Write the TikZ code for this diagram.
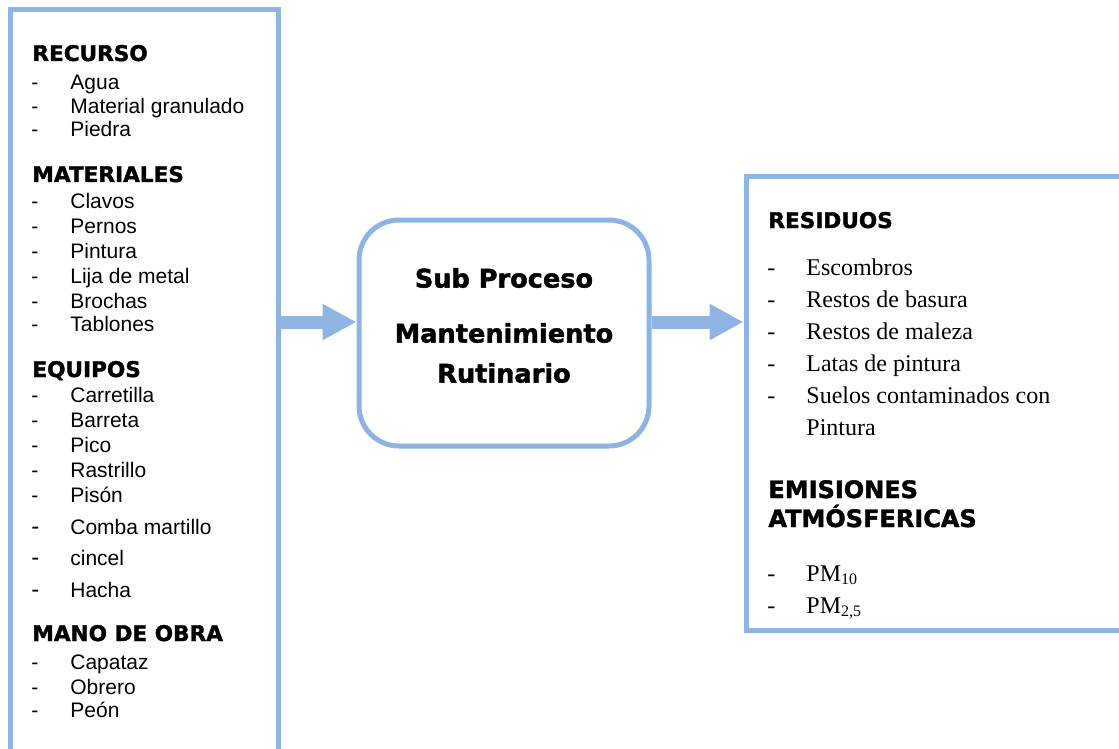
\documentclass[tikz,border=0pt]{standalone}
\usepackage{fontspec}
\setmainfont{Liberation Sans}
\newfontfamily\headfont[FakeBold=1.6]{DejaVu Sans Bold}
\newfontfamily\bodyserif{Liberation Serif}
\usetikzlibrary{arrows.meta, positioning}
\definecolor{SoftBlue}{RGB}{141,180,226}

\begin{document}
\begin{tikzpicture}[
    x=0.5pt, y=-0.5pt,
    panel/.style={draw=SoftBlue, line width=2.5pt, fill=white, inner sep=0pt},
    head/.style={anchor=base west, inner sep=0pt,
        font=\headfont\fontsize{10.8}{13}\selectfont},
    bighead/.style={head, font=\headfont\fontsize{12}{14}\selectfont},
    proctext/.style={inner sep=0pt,
        font=\headfont\fontsize{12.8}{15}\selectfont},
    entry/.style={anchor=base west, inner sep=0pt, font=\fontsize{10.5}{12}\selectfont},
    bigdash/.style={entry, font=\fontsize{12}{14}\selectfont},
    rentry/.style={anchor=base west, inner sep=0pt,
        font=\bodyserif\fontsize{12}{14}\selectfont},
    flow/.style={-{Triangle[length=17pt, width=17pt]}, line width=6.5pt, SoftBlue},
]
\clip (0,0) rectangle (1119,749);

% ============ cajas ============
\node[panel, minimum width=134pt, minimum height=390pt] (lbox) at (144,400) {};
\node[panel, rounded corners=20pt, minimum width=145pt, minimum height=113pt]
    (proc) at (504,333) {};
\node[panel, minimum width=192pt, minimum height=227pt] (rbox) at (938,403) {};

% ============ flechas ============
\coordinate (row) at (0,322);
\draw[flow] (lbox.east |- row) -- (proc.west |- row);
\draw[flow] (proc.east |- row) -- (rbox.west |- row);

% ============ sub proceso ============
\node[proctext] (sub)  at (504,278) {Sub Proceso};
\node[proctext] (mant) at (504,333) {Mantenimiento};
\node[proctext] (rut)  at (504,373) {Rutinario};

% ============ entradas ============
\node[head] (recurso) at (32,61) {RECURSO};
\foreach \y/\t [count=\i] in {89.5/Agua, 113.5/Material granulado, 137/Piedra} {
    \node[entry] (recd-\i) at (31,\y) {-};
    \node[entry] (rec-\i)  at (70,\y) {\t};
}

\node[head] (materiales) at (32,182) {MATERIALES};
\foreach \y/\t [count=\i] in {208.5/Clavos, 233.5/Pernos, 258.5/Pintura,
        283.5/Lija de metal, 308.5/Brochas, 331.5/Tablones} {
    \node[entry] (matd-\i) at (31,\y) {-};
    \node[entry] (mat-\i)  at (70,\y) {\t};
}

\node[head] (equipos) at (32,377) {EQUIPOS};
\foreach \y/\t [count=\i] in {402.5/Carretilla, 427.5/Barreta, 452.5/Pico,
        477.5/Rastrillo, 502.5/Pisón} {
    \node[entry] (eqd-\i) at (31,\y) {-};
    \node[entry] (eq-\i)  at (70,\y) {\t};
}
\foreach \y/\t [count=\i] in {534.5/Comba martillo, 565.5/cincel, 597.5/Hacha} {
    \node[bigdash] (eqbd-\i) at (31,\y) {-};
    \node[entry]   (eqb-\i)  at (70,\y) {\t};
}

\node[head] (mano) at (32,641) {MANO DE OBRA};
\foreach \y/\t [count=\i] in {669.5/Capataz, 694.5/Obrero, 717.5/Peón} {
    \node[entry] (mod-\i) at (31,\y) {-};
    \node[entry] (mo-\i)  at (70,\y) {\t};
}

% ============ salidas ============
\node[head] (residuos) at (768,228) {RESIDUOS};
\foreach \y/\t [count=\i] in {275/Escombros, 307/Restos de basura,
        339/Restos de maleza, 371/Latas de pintura, 403/Suelos contaminados con} {
    \node[rentry] (resd-\i) at (767,\y) {-};
    \node[rentry] (res-\i)  at (806,\y) {\t};
}
\node[rentry] (res-6) at (806,435) {Pintura};

\node[bighead] (emis) at (768,498) {EMISIONES};
\node[bighead] (atmo) at (768,527) {ATMÓSFERICAS};
\foreach \y/\t [count=\i] in {581/{PM\textsubscript{10}}, 613/{PM\textsubscript{2,5}}} {
    \node[rentry] (pmd-\i) at (767,\y) {-};
    \node[rentry] (pm-\i)  at (806,\y) {\t};
}

\end{tikzpicture}
\end{document}
